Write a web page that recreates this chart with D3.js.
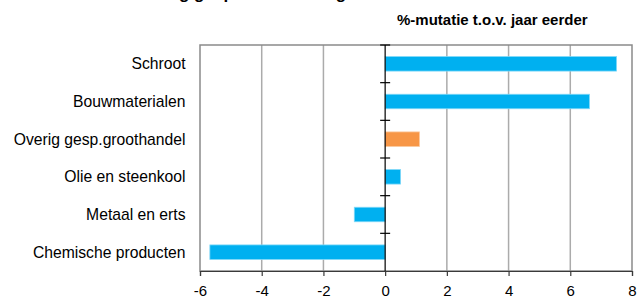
<!DOCTYPE html>
<html>
<head>
<meta charset="utf-8">
<script src="https://cdn.jsdelivr.net/npm/d3@7"></script>
<style>
  body { margin: 0; background: #fff; }
  text { font-family: Arial, "Liberation Sans", sans-serif; fill: #000; }
</style>
</head>
<body>
<div id="chart"></div>
<script>
// data
const categories = ["Schroot", "Bouwmaterialen", "Overig gesp.groothandel", "Olie en steenkool", "Metaal en erts", "Chemische producten"];
const values = [7.5, 6.62, 1.11, 0.5, -1.0, -5.68];
const highlight = ["Overig gesp.groothandel"];
const xTicks = [-6, -4, -2, 0, 2, 4, 6, 8];
const titleText = "Omzet overig gespecialiseerde groothandel";
const unitText = "%-mutatie t.o.v. jaar eerder";

const data = categories.map((c, i) => ({ cat: c, val: values[i] }));

const W = 644, H = 296;
const margin = { top: 45, right: 12, bottom: 25, left: 200 };
const width = 632 - margin.left;
const height = 271 - margin.top;

const svg = d3.select("#chart")
  .append("svg")
  .attr("width", W)
  .attr("height", H);

// title (cut off at top of picture)
const title = svg.append("text")
  .attr("x", 0)
  .attr("y", -1.5)
  .style("font-size", "17px")
  .style("font-weight", "bold")
  .text(titleText);
const gIdx = titleText.indexOf("g");
const gx = title.node().getStartPositionOfChar(gIdx).x;
title.attr("x", 179 - gx);

// unit label
svg.append("text")
  .attr("x", 397)
  .attr("y", 25)
  .style("font-size", "15px")
  .style("font-weight", "bold")
  .text(unitText);

const g = svg.append("g")
  .attr("transform", `translate(${margin.left}, ${margin.top})`);

const x = d3.scaleLinear()
  .domain([-6, 8])
  .range([0, width]);

const y = d3.scaleBand()
  .domain(categories)
  .range([0, height]);

// grid lines
g.append("g")
  .selectAll("line")
  .data(xTicks.filter(d => d !== 0 && d !== -6 && d !== 8))
  .join("line")
    .attr("x1", d => x(d))
    .attr("x2", d => x(d))
    .attr("y1", 0)
    .attr("y2", height)
    .attr("stroke", "#ababab")
    .attr("stroke-width", 1.5);

// frame
g.append("rect")
  .attr("x", 0)
  .attr("y", 0)
  .attr("width", width)
  .attr("height", height)
  .attr("fill", "none")
  .attr("stroke", "#8a8a8a")
  .attr("stroke-width", 1.5);

// bars
const barH = 14.5;
g.append("g")
  .selectAll("rect")
  .data(data)
  .join("rect")
    .attr("x", d => x(Math.min(0, d.val)))
    .attr("width", d => Math.abs(x(d.val) - x(0)))
    .attr("y", d => y(d.cat) + y.bandwidth() / 2 - barH / 2)
    .attr("height", barH)
    .attr("fill", d => highlight.includes(d.cat) ? "#f79646" : "#00b0f0")
    .attr("stroke", d => highlight.includes(d.cat) ? "#fbc79b" : "#7fd8f8")
    .attr("stroke-width", 0.8);

// x axis
const xAxis = g.append("g")
  .attr("transform", `translate(0, ${height})`)
  .call(d3.axisBottom(x).tickValues(xTicks).tickSize(5).tickPadding(9).tickFormat(d3.format("d")));
xAxis.select(".domain").attr("stroke", "#3a3a3a").attr("stroke-width", 1.2);
xAxis.selectAll(".tick line").attr("stroke", "#3a3a3a").attr("stroke-width", 1.2);
xAxis.selectAll(".tick text")
  .style("font-size", "15px")
  .style("font-family", "Arial, 'Liberation Sans', sans-serif")
  .text(d => d < 0 ? "-" + Math.abs(d) : d);

// zero axis with category ticks
const zero = g.append("g").attr("transform", `translate(${x(0)}, 0)`);
zero.append("line")
  .attr("y1", 0).attr("y2", height)
  .attr("stroke", "#000").attr("stroke-width", 1.2);
zero.selectAll("line.tk")
  .data(categories.map(c => y(c)))
  .join("line")
    .attr("class", "tk")
    .attr("x1", -5).attr("x2", 5)
    .attr("y1", d => d).attr("y2", d => d)
    .attr("stroke", "#000").attr("stroke-width", 1.2);

// category labels
g.append("g")
  .selectAll("text")
  .data(categories)
  .join("text")
    .attr("x", -14.5)
    .attr("y", d => y(d) + y.bandwidth() / 2)
    .attr("dy", "0.35em")
    .attr("text-anchor", "end")
    .style("font-size", "15.7px")
    .text(d => d);
</script>
</body>
</html>
